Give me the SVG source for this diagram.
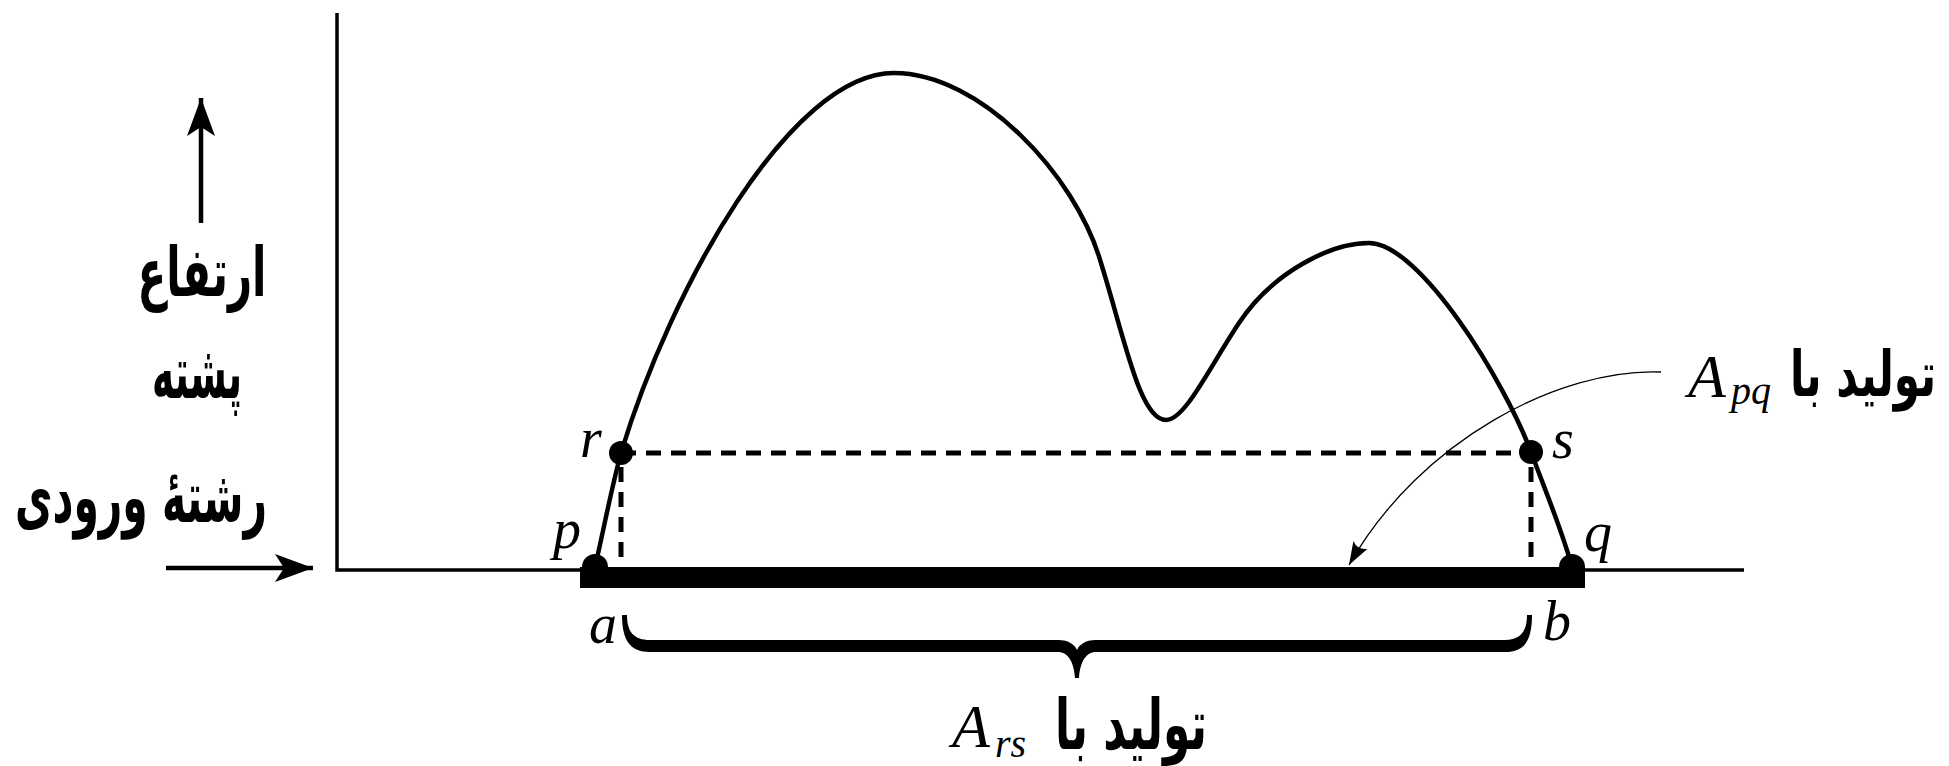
<svg xmlns="http://www.w3.org/2000/svg" width="1949" height="766" viewBox="0 0 1949 766">
<defs>
<style>
.axis{stroke:#000;stroke-width:3.5;fill:none}
.curve{stroke:#000;stroke-width:4.5;fill:none;stroke-linejoin:round}
.dash{stroke:#000;stroke-width:5;stroke-dasharray:15 10;fill:none}
.thin{stroke:#000;stroke-width:1.3;fill:none}
.fa{font-family:"DejaVu Sans","Noto Sans",sans-serif;font-weight:bold;fill:#000}
.m{font-family:"Liberation Serif","DejaVu Serif",serif;font-style:italic;fill:#000}
.dot{fill:#000}
</style>
<marker id="big" markerUnits="userSpaceOnUse" markerWidth="44" markerHeight="32" refX="38" refY="15" orient="auto" viewBox="0 0 44 30">
<path d="M38,15 L0,1 L9,15 L0,29 Z" fill="#000"/>
</marker>
<marker id="small" markerUnits="userSpaceOnUse" markerWidth="26" markerHeight="20" refX="24" refY="9" orient="auto" viewBox="0 0 26 18">
<path d="M24,9 L1,1 Q7,9 1,17 Z" fill="#000"/>
</marker>
</defs>
<rect width="1949" height="766" fill="#fff"/>

<g id="axes">
<path class="axis" d="M337,13 L337,570 L1744,570"/>
</g>

<g id="labels-left">
<line x1="201" y1="223" x2="201" y2="98" stroke="#000" stroke-width="4.5" marker-end="url(#big)"/>
<text class="fa" x="202" y="296" font-size="68" text-anchor="middle" textLength="129" lengthAdjust="spacingAndGlyphs">ارتفاع</text>
<text class="fa" x="197" y="398" font-size="74" text-anchor="middle" textLength="90" lengthAdjust="spacingAndGlyphs">پشته</text>
<text class="fa" x="141" y="522" font-size="72" text-anchor="middle" textLength="252" lengthAdjust="spacingAndGlyphs">رشتهٔ ورودی</text>
<line x1="166" y1="568" x2="313" y2="568" stroke="#000" stroke-width="4.5" marker-end="url(#big)"/>
</g>

<g id="curve">
<path class="curve" d="M595,567 C604,528 611,490 621,453 C670,290 790,73 894,73 C980,73 1076,175 1101,263 C1125,340 1140,420 1166,420 C1185,420 1209,368 1239,323 C1272,273 1330,243 1369,243 C1420,243 1505,382 1531,452 C1545,490 1562,530 1572,567"/>
</g>

<g id="interval">
<rect x="580" y="567" width="1005" height="21" fill="#000"/>
<path class="dash" d="M621,453 L1531,453"/>
<path class="dash" d="M621,467 L621,567"/>
<path class="dash" d="M1531,467 L1531,567"/>
</g>

<g id="points">
<circle class="dot" cx="621" cy="453" r="12"/>
<circle class="dot" cx="1531" cy="452" r="12"/>
<circle class="dot" cx="595" cy="567" r="13"/>
<circle class="dot" cx="1572" cy="567" r="13"/>
<text class="m" x="580" y="457" font-size="56">r</text>
<text class="m" x="553" y="548" font-size="56">p</text>
<text class="m" x="1552" y="458" font-size="56">s</text>
<text class="m" x="1584" y="551" font-size="56">q</text>
<text class="m" x="589" y="643" font-size="56">a</text>
<text class="m" x="1543" y="640" font-size="56">b</text>
</g>

<g id="brace">
<path fill="#000" d="M622,615 C622,640 630,652 650,652 L1058,652 C1068,652 1074,662 1075,678 L1079,678 C1080,662 1086,652 1096,652 L1505,652 C1525,652 1532,640 1532,615 L1527,615 C1527,632 1520,640 1505,640 L1096,640 C1085,640 1079,645 1077,650 C1075,645 1069,640 1058,640 L650,640 C634,640 627,632 627,615 Z"/>
</g>

<g id="label-rs">
<text class="m" x="952" y="747" font-size="62">A</text>
<text class="m" x="995" y="757" font-size="40">rs</text>
<text class="fa" x="1131" y="749" font-size="70" text-anchor="middle" textLength="152" lengthAdjust="spacingAndGlyphs">تولید با</text>
</g>

<g id="label-pq">
<text class="m" x="1688" y="397" font-size="62">A</text>
<text class="m" x="1731" y="404" font-size="40">pq</text>
<text class="fa" x="1790" y="396" font-size="63" textLength="146" lengthAdjust="spacingAndGlyphs">تولید با</text>
</g>

<g id="connectors">
<path class="thin" d="M1661,372 C1560,368 1420,440 1349,565" marker-end="url(#small)"/>
</g>
</svg>
